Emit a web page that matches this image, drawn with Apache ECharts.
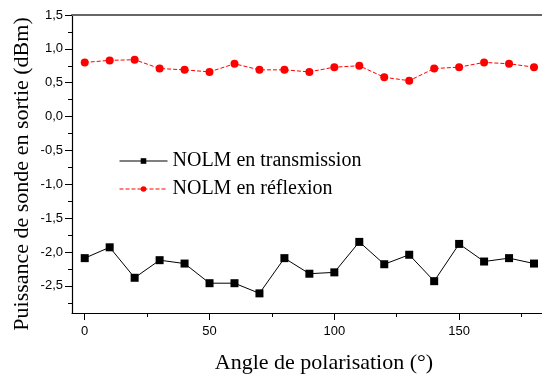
<!DOCTYPE html>
<html>
<head>
<meta charset="utf-8">
<script src="https://cdn.jsdelivr.net/npm/echarts@6/dist/echarts.min.js"></script>
<style>html,body{margin:0;padding:0;background:#fff;}#c{width:542px;height:377px;}</style>
</head>
<body>
<div id="c"></div>
<script>
// Data
var angles = [0,10,20,30,40,50,60,70,80,90,100,110,120,130,140,150,160,170,180];
var transmission = [-2.09,-1.93,-2.38,-2.12,-2.17,-2.46,-2.46,-2.61,-2.09,-2.32,-2.30,-1.85,-2.18,-2.04,-2.43,-1.88,-2.14,-2.09,-2.17];
var reflexion = [0.80,0.83,0.84,0.71,0.69,0.66,0.78,0.69,0.69,0.66,0.73,0.75,0.58,0.53,0.71,0.73,0.80,0.78,0.73];
var xMajorTicks = [0,50,100,150];
var xMinorTicks = [25,75,125,175];
var yMajorTicks = [-2.5,-2.0,-1.5,-1.0,-0.5,0.0,0.5,1.0,1.5];
var yMinorTicks = [-2.75,-2.25,-1.75,-1.25,-0.75,-0.25,0.25,0.75,1.25];
var seriesNames = ['NOLM en transmission','NOLM en réflexion'];

var XMIN = -5.1, XMAX = 183.2, YMIN = -2.9, YMAX = 1.5;
function pair(xs, ys){ return xs.map(function(x,i){ return [x, ys[i]]; }); }
var tickFont = {fontFamily:'Liberation Sans', fontSize:13, color:'#000'};

var chart = echarts.init(document.getElementById('c'), null, {renderer:'canvas'});
chart.setOption({
  animation:false,
  backgroundColor:'#fff',
  grid:{left:72, right:0, top:15, bottom:64, containLabel:false},
  xAxis:[
    {type:'value', position:'bottom', min:XMIN, max:XMAX,
     axisLine:{show:true, onZero:false, lineStyle:{color:'#000', width:1.2}},
     axisTick:{show:true, customValues:xMajorTicks, length:7, inside:false, lineStyle:{color:'#000', width:1}},
     axisLabel:{show:true, customValues:xMajorTicks, margin:12, ...tickFont},
     splitLine:{show:false}},
    {type:'value', position:'bottom', min:XMIN, max:XMAX,
     axisLine:{show:false, onZero:false},
     axisTick:{show:true, customValues:xMinorTicks, length:4, lineStyle:{color:'#000', width:1}},
     axisLabel:{show:false}, splitLine:{show:false}},
    {type:'value', position:'top', min:XMIN, max:XMAX,
     axisLine:{show:true, onZero:false, lineStyle:{color:'#666', width:2}},
     axisTick:{show:false}, axisLabel:{show:false}, splitLine:{show:false}}
  ],
  yAxis:[
    {type:'value', position:'left', min:YMIN, max:YMAX,
     axisLine:{show:true, onZero:false, lineStyle:{color:'#000', width:1.2}},
     axisTick:{show:true, customValues:yMajorTicks, length:7, lineStyle:{color:'#000', width:1}},
     axisLabel:{show:true, customValues:yMajorTicks, margin:9, ...tickFont,
       formatter:function(v){ return v.toFixed(1).replace('.', ','); }},
     splitLine:{show:false}},
    {type:'value', position:'left', min:YMIN, max:YMAX,
     axisLine:{show:false, onZero:false},
     axisTick:{show:true, customValues:yMinorTicks, length:4, lineStyle:{color:'#000', width:1}},
     axisLabel:{show:false}, splitLine:{show:false}}
  ],
  legend:{
    orient:'vertical', left:114, top:146, itemWidth:48, itemHeight:7, itemGap:8,
    textStyle:{fontFamily:'Liberation Serif', fontSize:20, color:'#000'},
    lineStyle:{width:1},
    data:[
      {name:seriesNames[0]},
      {name:seriesNames[1]}
    ]
  },
  graphic:[
    {type:'text', x:324, y:363, style:{text:'Angle de polarisation (°)', font:'22px "Liberation Serif"', fill:'#000', align:'center', verticalAlign:'middle'}},
    {type:'text', rotation:Math.PI/2, x:22, y:174, style:{text:'Puissance de sonde en sortie (dBm)', font:'22px "Liberation Serif"', fill:'#000', align:'center', verticalAlign:'middle'}}
  ],
  series:[
    {name:seriesNames[0], type:'line', xAxisIndex:0, yAxisIndex:0, data:pair(angles, transmission),
     symbol:'rect', symbolSize:8, itemStyle:{color:'#000'}, lineStyle:{color:'#000', width:1}},
    {name:seriesNames[1], type:'line', xAxisIndex:0, yAxisIndex:0, data:pair(angles, reflexion),
     symbol:'circle', symbolSize:8, itemStyle:{color:'#ff0000'}, lineStyle:{color:'#ff0000', width:1, type:[4,2]}}
  ]
});
</script>
</body>
</html>
